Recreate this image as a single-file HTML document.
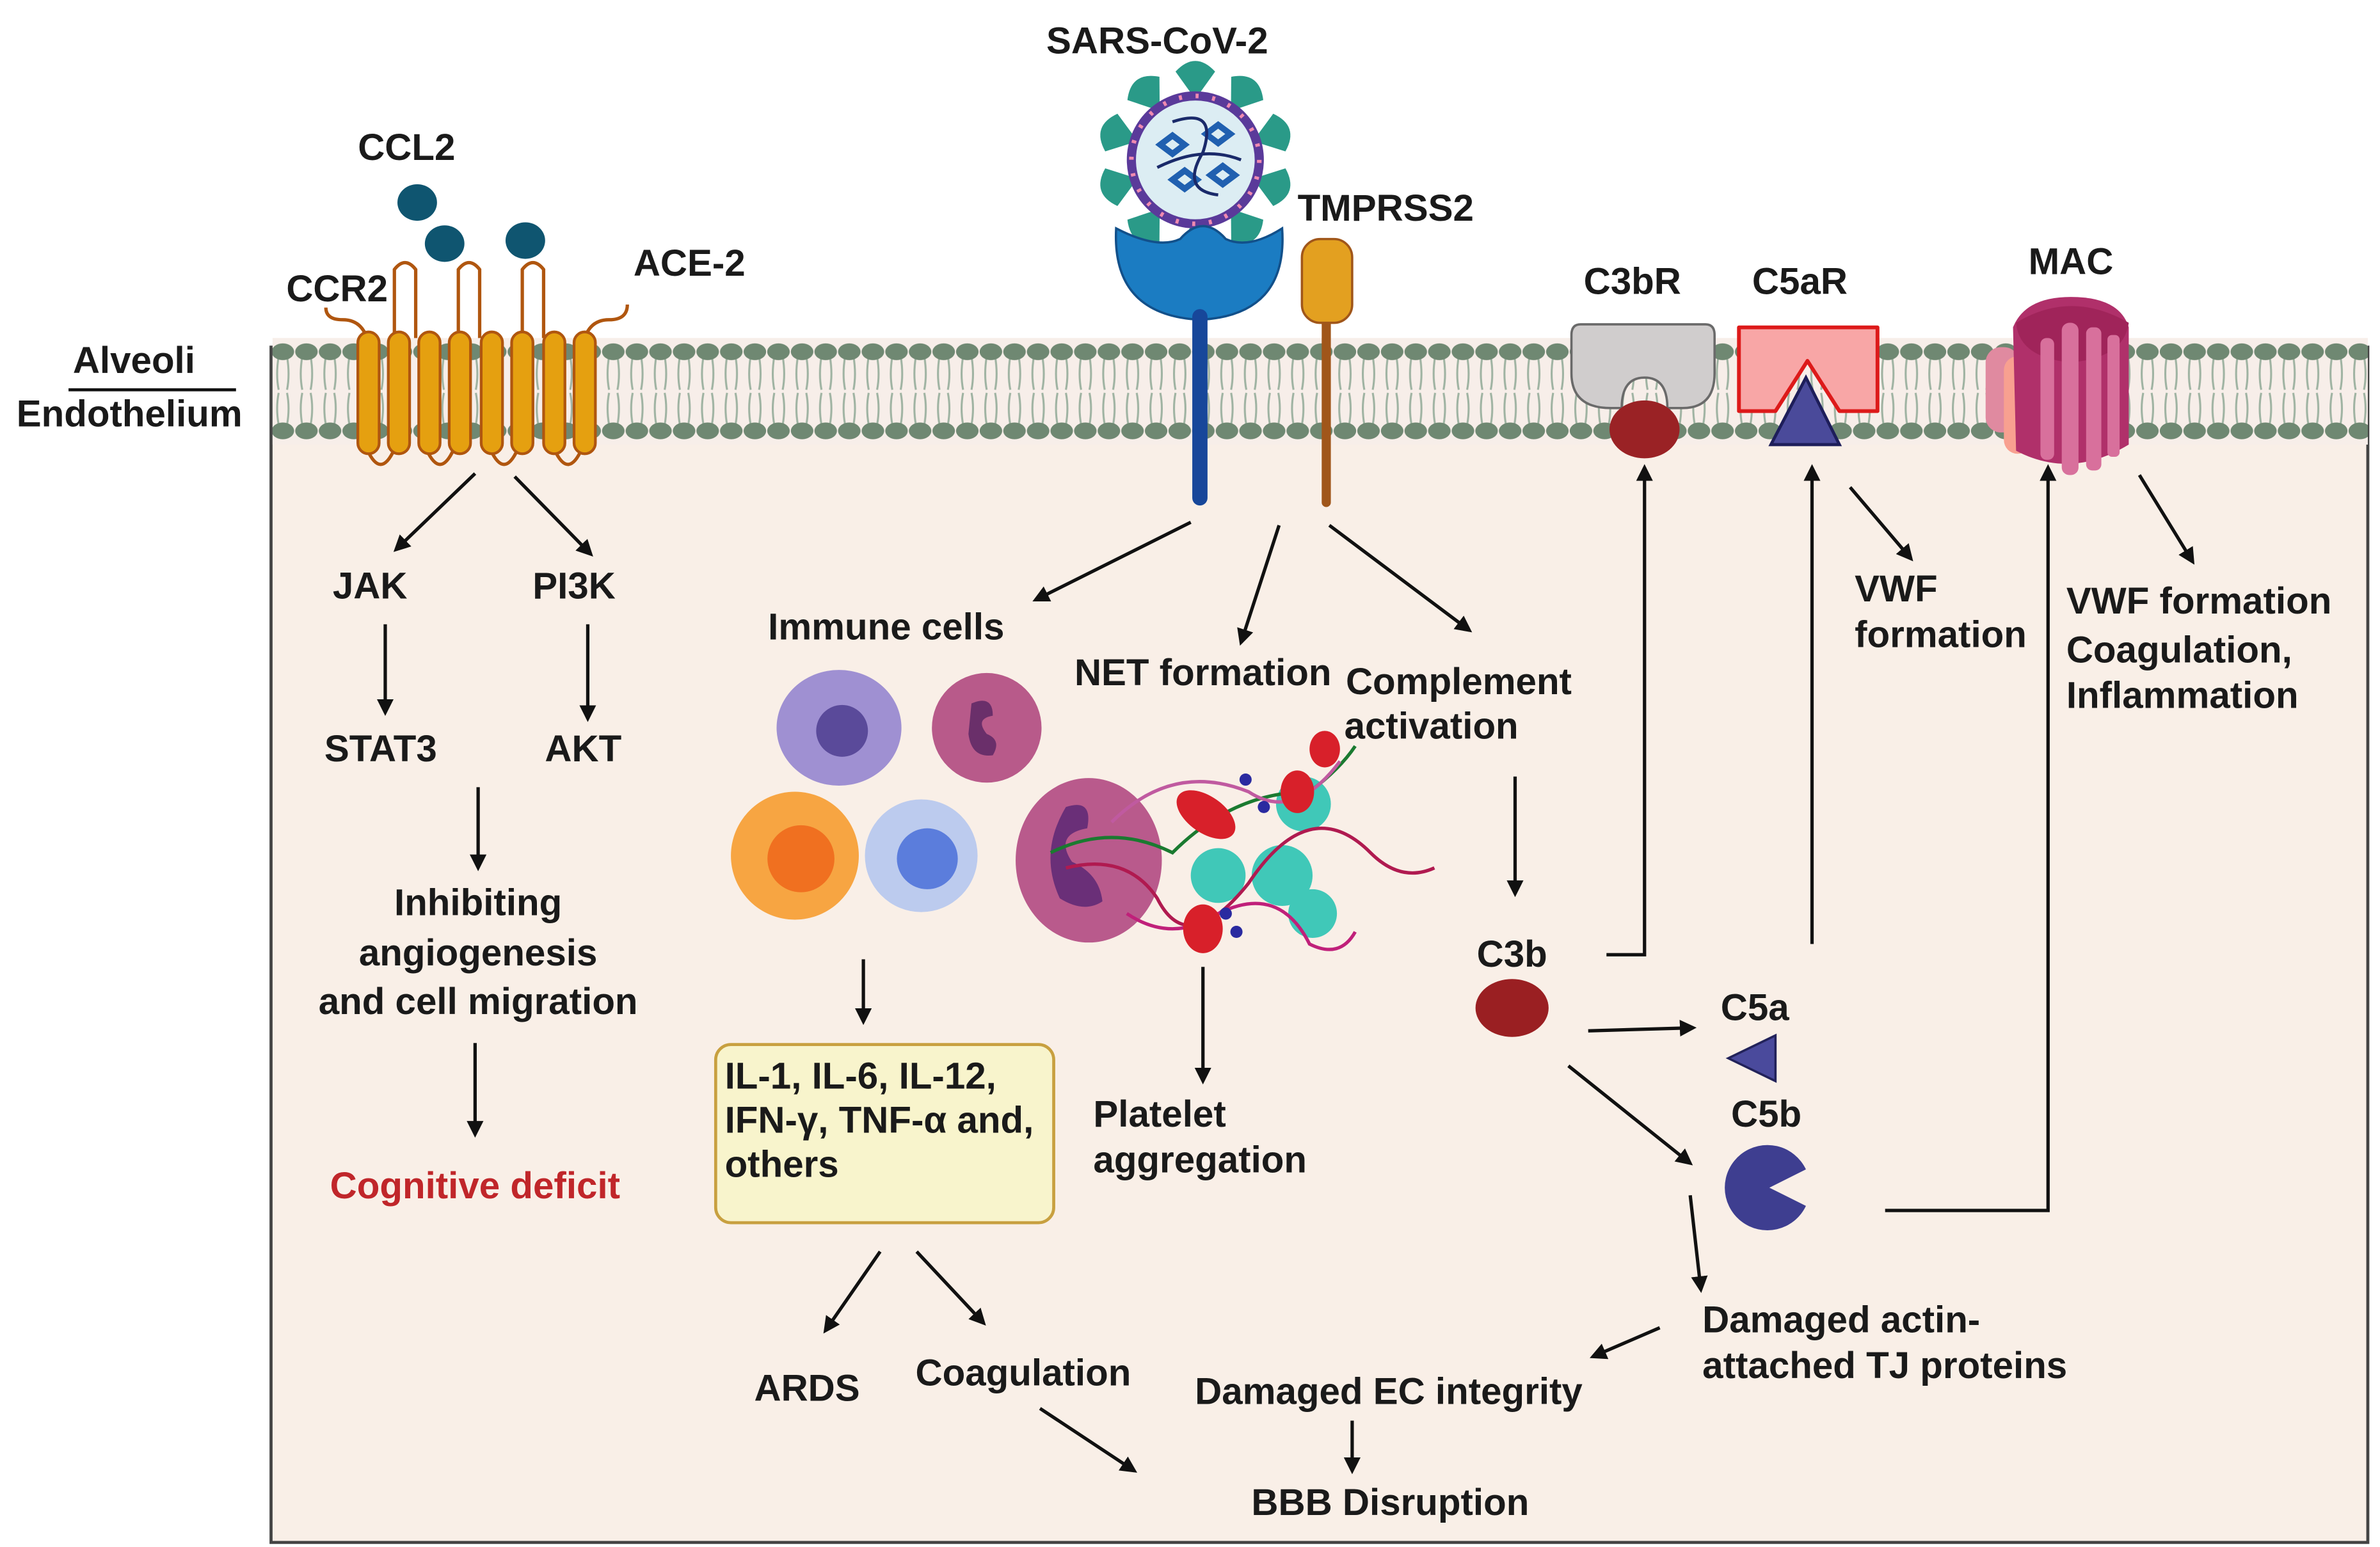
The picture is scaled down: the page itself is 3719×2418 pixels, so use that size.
<!DOCTYPE html>
<html><head><meta charset="utf-8"><style>
html,body{margin:0;padding:0;background:#fff;}
svg{display:block;}
text{font-family:"Liberation Sans",sans-serif;font-weight:bold;font-size:24.5px;fill:#1a1a1a;}
</style></head><body>
<svg width="3719" height="2418" viewBox="0 0 1563 1016" preserveAspectRatio="none" xmlns="http://www.w3.org/2000/svg">
<defs>
<marker id="ah" viewBox="0 0 10 10" refX="8" refY="5" markerWidth="5" markerHeight="5" orient="auto"><path d="M0,0 L10,5 L0,10 z" fill="#111"/></marker>
<pattern id="mem" patternUnits="userSpaceOnUse" x="178" y="222" width="15.5" height="70">
<rect width="15.5" height="70" fill="#f7eee9"/>
<path d="M5,12 Q3,24 5,34 M10.5,12 Q12.5,24 10.5,34 M5,36 Q3,46 5,57 M10.5,36 Q12.5,46 10.5,57" stroke="#9fb3a2" stroke-width="1.3" fill="none"/>
<ellipse cx="7.75" cy="9" rx="7.4" ry="5.5" fill="#6f8872"/>
<ellipse cx="7.75" cy="61" rx="7.4" ry="5.5" fill="#6f8872"/>
</pattern>
</defs>
<rect x="178" y="228" width="1377" height="785" fill="#f9efe7" stroke="#444" stroke-width="2"/>
<rect x="179" y="222" width="1376" height="70" fill="url(#mem)"/>

<text x="88" y="245" text-anchor="middle">Alveoli</text>
<line x1="45" y1="256" x2="155" y2="256" stroke="#111" stroke-width="2"/>
<text x="85" y="280" text-anchor="middle">Endothelium</text>

<text x="267" y="105" text-anchor="middle">CCL2</text>
<ellipse cx="274" cy="133" rx="13" ry="12" fill="#0f5570"/>
<ellipse cx="292" cy="160" rx="13" ry="12" fill="#0f5570"/>
<ellipse cx="345" cy="158" rx="13" ry="12" fill="#0f5570"/>
<text x="188" y="198">CCR2</text>
<text x="416" y="181">ACE-2</text>
<g fill="none" stroke="#b0560f" stroke-width="2.2">
<path d="M214,202 Q214,210 225,210 Q237,210 241,222"/>
<path d="M259,222 L259,177 Q266,168 273,177 L273,222"/>
<path d="M301,222 L301,177 Q308,168 315,177 L315,222"/>
<path d="M343,222 L343,177 Q350,168 357,177 L357,222"/>
<path d="M384,222 Q388,210 400,210 Q412,210 412,200"/>
<path d="M241,295 Q250,315 259,295"/>
<path d="M280,295 Q289,315 298,295"/>
<path d="M322,295 Q331,315 340,295"/>
<path d="M364,295 Q373,315 382,295"/>
</g>
<g fill="#e5a010" stroke="#b0560f" stroke-width="1.8">
<rect x="235" y="218" width="14" height="80" rx="7"/>
<rect x="255" y="218" width="14" height="80" rx="7"/>
<rect x="275" y="218" width="14" height="80" rx="7"/>
<rect x="295" y="218" width="14" height="80" rx="7"/>
<rect x="316" y="218" width="14" height="80" rx="7"/>
<rect x="336" y="218" width="14" height="80" rx="7"/>
<rect x="357" y="218" width="14" height="80" rx="7"/>
<rect x="377" y="218" width="14" height="80" rx="7"/>
</g>

<g stroke="#111" stroke-width="2.2" fill="none" marker-end="url(#ah)">
<line x1="312" y1="311" x2="260" y2="361"/>
<line x1="338" y1="313" x2="388" y2="364"/>
<line x1="253" y1="410" x2="253" y2="468"/>
<line x1="386" y1="410" x2="386" y2="472"/>
<line x1="314" y1="517" x2="314" y2="570"/>
<line x1="312" y1="685" x2="312" y2="745"/>
<line x1="782" y1="343" x2="680" y2="394"/>
<line x1="840" y1="345" x2="815" y2="422"/>
<line x1="873" y1="345" x2="965" y2="414"/>
<line x1="567" y1="630" x2="567" y2="671"/>
<line x1="790" y1="635" x2="790" y2="710"/>
<line x1="578" y1="822" x2="542" y2="874"/>
<line x1="602" y1="822" x2="646" y2="869"/>
<line x1="683" y1="925" x2="745" y2="966"/>
<line x1="995" y1="510" x2="995" y2="587"/>
<polyline points="1055,627 1080,627 1080,307"/>
<line x1="1043" y1="677" x2="1112" y2="675"/>
<line x1="1030" y1="700" x2="1110" y2="764"/>
<line x1="1190" y1="620" x2="1190" y2="307"/>
<polyline points="1238,795 1345,795 1345,307"/>
<line x1="1110" y1="785" x2="1117" y2="847"/>
<line x1="1090" y1="872" x2="1046" y2="891"/>
<line x1="888" y1="933" x2="888" y2="966"/>
<line x1="1215" y1="320" x2="1255" y2="367"/>
<line x1="1405" y1="312" x2="1440" y2="369"/>
</g>

<text x="243" y="393" text-anchor="middle">JAK</text>
<text x="377" y="393" text-anchor="middle">PI3K</text>
<text x="250" y="500" text-anchor="middle">STAT3</text>
<text x="383" y="500" text-anchor="middle">AKT</text>
<text x="314" y="601" text-anchor="middle">Inhibiting</text>
<text x="314" y="634" text-anchor="middle">angiogenesis</text>
<text x="314" y="666" text-anchor="middle">and cell migration</text>
<text x="312" y="787" text-anchor="middle" style="fill:#c0262a">Cognitive deficit</text>

<text x="760" y="35" text-anchor="middle">SARS-CoV-2</text>
<g fill="#2a9a88">
<g transform="translate(785,105)">
<path d="M-3,-44 L-13,-58 Q0,-72 13,-58 L3,-44 z" transform="rotate(0)"/>
<path d="M-3,-44 L-13,-58 Q0,-72 13,-58 L3,-44 z" transform="rotate(36)"/>
<path d="M-3,-44 L-13,-58 Q0,-72 13,-58 L3,-44 z" transform="rotate(72)"/>
<path d="M-3,-44 L-13,-58 Q0,-72 13,-58 L3,-44 z" transform="rotate(108)"/>
<path d="M-3,-44 L-13,-58 Q0,-72 13,-58 L3,-44 z" transform="rotate(144)"/>
<path d="M-3,-44 L-13,-58 Q0,-72 13,-58 L3,-44 z" transform="rotate(180)"/>
<path d="M-3,-44 L-13,-58 Q0,-72 13,-58 L3,-44 z" transform="rotate(216)"/>
<path d="M-3,-44 L-13,-58 Q0,-72 13,-58 L3,-44 z" transform="rotate(252)"/>
<path d="M-3,-44 L-13,-58 Q0,-72 13,-58 L3,-44 z" transform="rotate(288)"/>
<path d="M-3,-44 L-13,-58 Q0,-72 13,-58 L3,-44 z" transform="rotate(324)"/>
</g></g>
<circle cx="785" cy="105" r="42" fill="#dcedf3" stroke="#5a3a9a" stroke-width="6"/>
<circle cx="785" cy="105" r="42" fill="none" stroke="#f08ab0" stroke-width="3" stroke-dasharray="2 9"/>
<g fill="none" stroke="#2060b0" stroke-width="4">
<path d="M762,95 l8,-6 l8,6 l-8,6 z"/><path d="M792,88 l8,-6 l8,6 l-8,6 z"/>
<path d="M770,118 l8,-6 l8,6 l-8,6 z"/><path d="M795,115 l8,-6 l8,6 l-8,6 z"/>
</g>
<path d="M770,80 Q800,70 790,100 Q775,125 800,128 M760,110 Q790,95 815,105" stroke="#1a2a6a" stroke-width="2" fill="none"/>
<path d="M733,150 Q760,164 775,157 Q790,140 805,157 Q820,164 842,150 Q846,207 788,210 Q730,207 733,150 z" fill="#1b7cc2" stroke="#12508a" stroke-width="1.5"/>
<line x1="788" y1="208" x2="788" y2="327" stroke="#17479a" stroke-width="10" stroke-linecap="round"/>
<text x="910" y="145" text-anchor="middle">TMPRSS2</text>
<line x1="871" y1="210" x2="871" y2="330" stroke="#a0561a" stroke-width="6" stroke-linecap="round"/>
<rect x="855" y="157" width="33" height="55" rx="12" fill="#e3a020" stroke="#a0561a" stroke-width="1.5"/>

<text x="582" y="420" text-anchor="middle">Immune cells</text>
<ellipse cx="551" cy="478" rx="41" ry="38" fill="#9f90d2"/>
<circle cx="553" cy="480" r="17" fill="#5a4a9a"/>
<circle cx="648" cy="478" r="36" fill="#b85a8a"/>
<path d="M638,462 q14,-6 14,8 q-12,2 -4,12 q10,4 4,14 q-14,2 -16,-14 z" fill="#6a2f6a"/>
<circle cx="522" cy="562" r="42" fill="#f7a542"/>
<circle cx="526" cy="564" r="22" fill="#f07020"/>
<circle cx="605" cy="562" r="37" fill="#bccbee"/>
<circle cx="609" cy="564" r="20" fill="#5b7ddc"/>
<text x="790" y="450" text-anchor="middle">NET formation</text>
<text x="958" y="456" text-anchor="middle">Complement</text>
<text x="940" y="485" text-anchor="middle">activation</text>
<ellipse cx="715" cy="565" rx="48" ry="54" fill="#b95a8c"/>
<path d="M700,530 q18,-6 14,14 q-22,4 -10,22 q18,8 20,26 q-12,8 -28,-2 q-14,-30 4,-60 z" fill="#6a2f78"/>
<g fill="#40c8b8"><circle cx="800" cy="575" r="18"/><circle cx="842" cy="575" r="20"/><circle cx="856" cy="528" r="18"/><circle cx="862" cy="600" r="16"/></g>
<g fill="none" stroke-width="2.2">
<path d="M700,570 Q740,560 760,590 Q780,630 820,580 Q860,520 900,560 Q920,580 942,570" stroke="#b01a50"/>
<path d="M690,560 Q730,540 770,560 Q810,520 860,520 Q880,505 890,490" stroke="#1a7a30"/>
<path d="M730,540 Q770,500 820,520 Q850,540 880,500" stroke="#c05aa0"/>
<path d="M740,600 Q770,620 800,600 Q840,580 860,620 Q880,630 890,612" stroke="#c0207a"/>
</g>
<ellipse cx="792" cy="535" rx="22" ry="12" transform="rotate(35 792 535)" fill="#d8202a"/>
<ellipse cx="852" cy="520" rx="11" ry="14" fill="#d8202a"/>
<ellipse cx="870" cy="492" rx="10" ry="12" fill="#d8202a"/>
<ellipse cx="790" cy="610" rx="13" ry="16" fill="#d8202a"/>
<g fill="#2a2aa0"><circle cx="818" cy="512" r="4"/><circle cx="830" cy="530" r="4"/><circle cx="805" cy="600" r="4"/><circle cx="812" cy="612" r="4"/></g>

<rect x="470" y="686" width="222" height="117" rx="10" fill="#f8f4cc" stroke="#c8a040" stroke-width="2"/>
<text x="476" y="715">IL-1, IL-6, IL-12,</text>
<text x="476" y="744">IFN-γ, TNF-α and,</text>
<text x="476" y="773">others</text>
<text x="718" y="740">Platelet</text>
<text x="718" y="770">aggregation</text>
<text x="530" y="920" text-anchor="middle">ARDS</text>
<text x="672" y="910" text-anchor="middle">Coagulation</text>

<text x="993" y="635" text-anchor="middle">C3b</text>
<ellipse cx="993" cy="662" rx="24" ry="19" fill="#9a1f22"/>
<text x="1130" y="670">C5a</text>
<path d="M1135,695 L1166,680 L1166,710 z" fill="#4a4a9c" stroke="#22225a" stroke-width="1.5"/>
<text x="1160" y="740" text-anchor="middle">C5b</text>
<path d="M1186,768 A28,28 0 1 0 1186,792 L1162,780 z" fill="#3e3e90"/>
<text x="1118" y="875">Damaged actin-</text>
<text x="1118" y="905">attached TJ proteins</text>
<text x="912" y="922" text-anchor="middle">Damaged EC integrity</text>
<text x="913" y="995" text-anchor="middle">BBB Disruption</text>

<text x="1072" y="193" text-anchor="middle">C3bR</text>
<path d="M1038,213 L1120,213 Q1126,213 1126,220 L1126,245 Q1126,268 1105,268 L1095,268 Q1095,248 1080,248 Q1065,248 1065,268 L1058,268 Q1032,268 1032,245 L1032,220 Q1032,213 1038,213 z" fill="#d0cdcd" stroke="#6a6a6a" stroke-width="1.5"/>
<ellipse cx="1080" cy="282" rx="23" ry="19" fill="#9a2225"/>
<text x="1182" y="193" text-anchor="middle">C5aR</text>
<path d="M1142,215 L1233,215 L1233,270 L1208,270 L1187,237 L1166,270 L1142,270 z" fill="#f8a6a6" stroke="#dd1a1a" stroke-width="2.5" stroke-linejoin="round"/>
<path d="M1186,248 L1208,292 L1163,292 z" fill="#4a4a9a" stroke="#1e1e5a" stroke-width="2"/>
<text x="1218" y="395">VWF</text>
<text x="1218" y="425">formation</text>

<text x="1360" y="180" text-anchor="middle">MAC</text>
<rect x="1304" y="228" width="22" height="56" rx="10" fill="#e08aa0"/>
<rect x="1316" y="234" width="18" height="64" rx="9" fill="#f8a090"/>
<path d="M1322,215 Q1330,195 1360,195 Q1392,195 1398,215 L1398,292 Q1360,315 1324,296 z" fill="#b0306a"/>
<path d="M1324,212 Q1360,190 1398,212 Q1395,235 1360,238 Q1326,235 1324,212 z" fill="#a0245a"/>
<g fill="#d8709c"><rect x="1354" y="212" width="11" height="100" rx="5"/><rect x="1370" y="215" width="10" height="94" rx="4"/><rect x="1340" y="222" width="9" height="80" rx="4"/><rect x="1384" y="220" width="8" height="80" rx="3"/></g>
<text x="1357" y="403">VWF formation</text>
<text x="1357" y="435">Coagulation,</text>
<text x="1357" y="465">Inflammation</text>
</svg>
</body></html>
